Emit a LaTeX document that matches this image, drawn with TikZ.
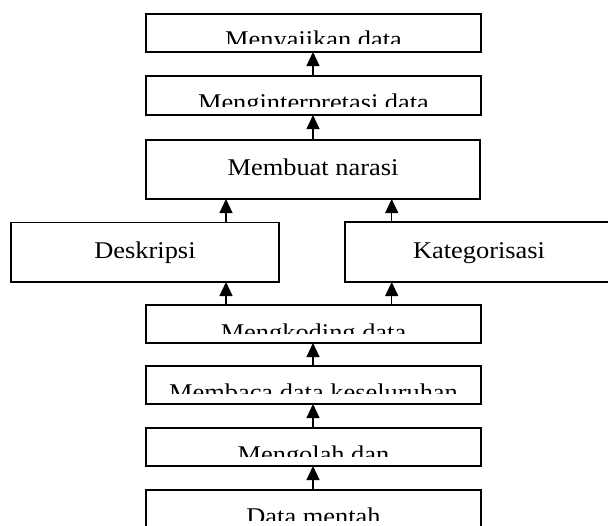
\documentclass[tikz,border=0pt]{standalone}
\usepackage{fontspec}
\setmainfont[FakeStretch=1.1]{Liberation Serif}
\usetikzlibrary{arrows.meta}
\tikzset{
  box/.style={draw, line width=1.6pt, inner sep=0pt, outer sep=0pt},
  lbl/.style={inner sep=0pt, font=\fontsize{24}{28}\selectfont, anchor=base},
  arr/.style={line width=1.1pt, -{Triangle[length=14pt,width=13pt]}}
}
% #1 name, #2 x1, #3 y1, #4 x2, #5 y2, #6 baseline, #7 clip bottom, #8 text
\newcommand{\mybox}[8]{%
  \node[box, minimum width={(#4-#2)*1pt}, minimum height={(#5-#3)*1pt}] (#1) at ({(#2+#4)/2},{(#3+#5)/2}) {};
  \begin{scope}
    \clip (#2,#3) rectangle (#4,#7);
    \node[lbl] (#1t) at ({(#2+#4)/2},#6) {#8};
  \end{scope}%
}
\begin{document}
\begin{tikzpicture}[x=1pt,y=-1pt]
\clip (0,0) rectangle (608,525);
\fill[white] (0,0) rectangle (608,525);
\mybox{b1}{146}{14}{481}{52}{47.4}{43.3}{Menyajikan data}
\mybox{b2}{146}{76}{481}{115}{110}{106}{Menginterpretasi data}
\mybox{b3}{146}{140}{480}{199}{175.7}{190.5}{Membuat narasi}
\mybox{bd}{11}{222.5}{279}{282}{258.3}{273}{Deskripsi}
\mybox{bk}{345}{222}{613}{282}{258}{273}{Kategorisasi}
\mybox{b4}{146}{305}{481}{343}{340.7}{333.3}{Mengkoding data}
\mybox{b5}{146}{366}{481}{404}{400.7}{393.3}{Membaca data keseluruhan}
\mybox{b6}{146}{428}{481}{466}{462.4}{456}{Mengolah dan}
\mybox{b7}{146}{490}{481}{560}{524}{520}{Data mentah}
\coordinate (xm) at (313,0);
\coordinate (xl) at (226,0);
\coordinate (xr) at (391.7,0);
\draw[arr] (b2.north -| xm) -- (b1.south -| xm);
\draw[arr] (b3.north -| xm) -- (b2.south -| xm);
\draw[arr] (bd.north -| xl) -- (b3.south -| xl);
\draw[arr] (bk.north -| xr) -- (b3.south -| xr);
\draw[arr] (b4.north -| xl) -- (bd.south -| xl);
\draw[arr] (b4.north -| xr) -- (bk.south -| xr);
\draw[arr] (b5.north -| xm) -- (b4.south -| xm);
\draw[arr] (b6.north -| xm) -- (b5.south -| xm);
\draw[arr] (b7.north -| xm) -- (b6.south -| xm);
\end{tikzpicture}
\end{document}
